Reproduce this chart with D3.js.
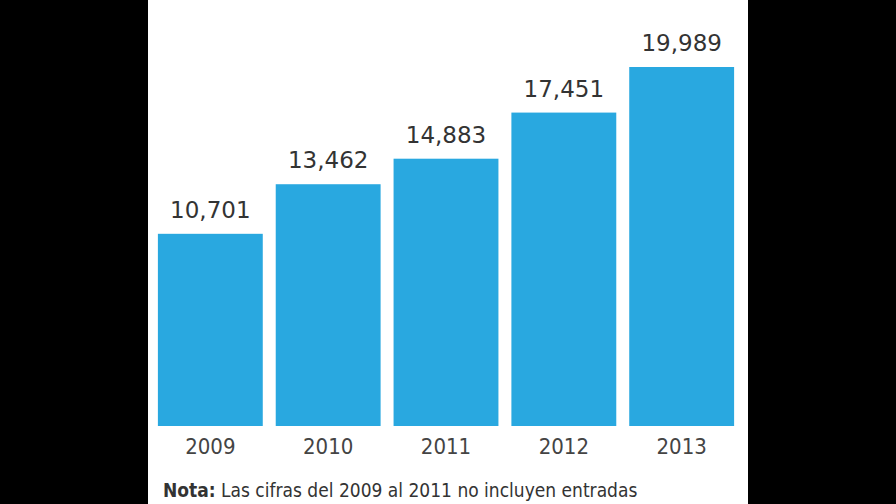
<!DOCTYPE html>
<html lang="es">
<head>
<meta charset="UTF-8" />
<script src="https://d3js.org/d3.v7.min.js"></script>
<style>
  body { margin: 0; background: #000; }
  .val { font: 500 23px "DejaVu Sans", sans-serif; fill: #333; }
  .yr { font: 22px "Liberation Sans Narrow", "DejaVu Sans Condensed", sans-serif; fill: #444; }
  .note { font: 19px "Liberation Sans Narrow", "DejaVu Sans Condensed", sans-serif; fill: #333; }
</style>
</head>
<body>
<svg id="chart" width="896" height="504"></svg>
<script>
  const years = ["2009", "2010", "2011", "2012", "2013"];
  const values = [10701, 13462, 14883, 17451, 19989];

  const svg = d3.select("#chart");
  svg.append("rect").attr("x", 148).attr("y", 0).attr("width", 600).attr("height", 504).attr("fill", "#fff");

  const x = d3.scaleBand().domain(years).range([152, 740]).paddingInner(0.11).paddingOuter(0.05);
  const y = d3.scaleLinear().domain([0, 19989]).range([426, 67]);

  svg.selectAll(".bar").data(values).join("rect")
    .attr("x", (d, i) => x(years[i]))
    .attr("y", d => y(d))
    .attr("width", x.bandwidth())
    .attr("height", d => y(0) - y(d))
    .attr("fill", "#29a8e0");

  svg.selectAll(".val").data(values).join("text")
    .attr("class", "val")
    .attr("x", (d, i) => x(years[i]) + x.bandwidth() / 2)
    .attr("y", d => y(d) - 16)
    .attr("text-anchor", "middle")
    .text(d => d3.format(",")(d));

  svg.selectAll(".yr").data(years).join("text")
    .attr("class", "yr")
    .attr("x", d => x(d) + x.bandwidth() / 2)
    .attr("y", 454)
    .attr("text-anchor", "middle")
    .text(d => d);

  const note = svg.append("text").attr("class", "note").attr("x", 163).attr("y", 497);
  note.append("tspan").attr("font-weight", "bold").text("Nota:");
  note.append("tspan").text(" Las cifras del 2009 al 2011 no incluyen entradas");
</script>
</body>
</html>
